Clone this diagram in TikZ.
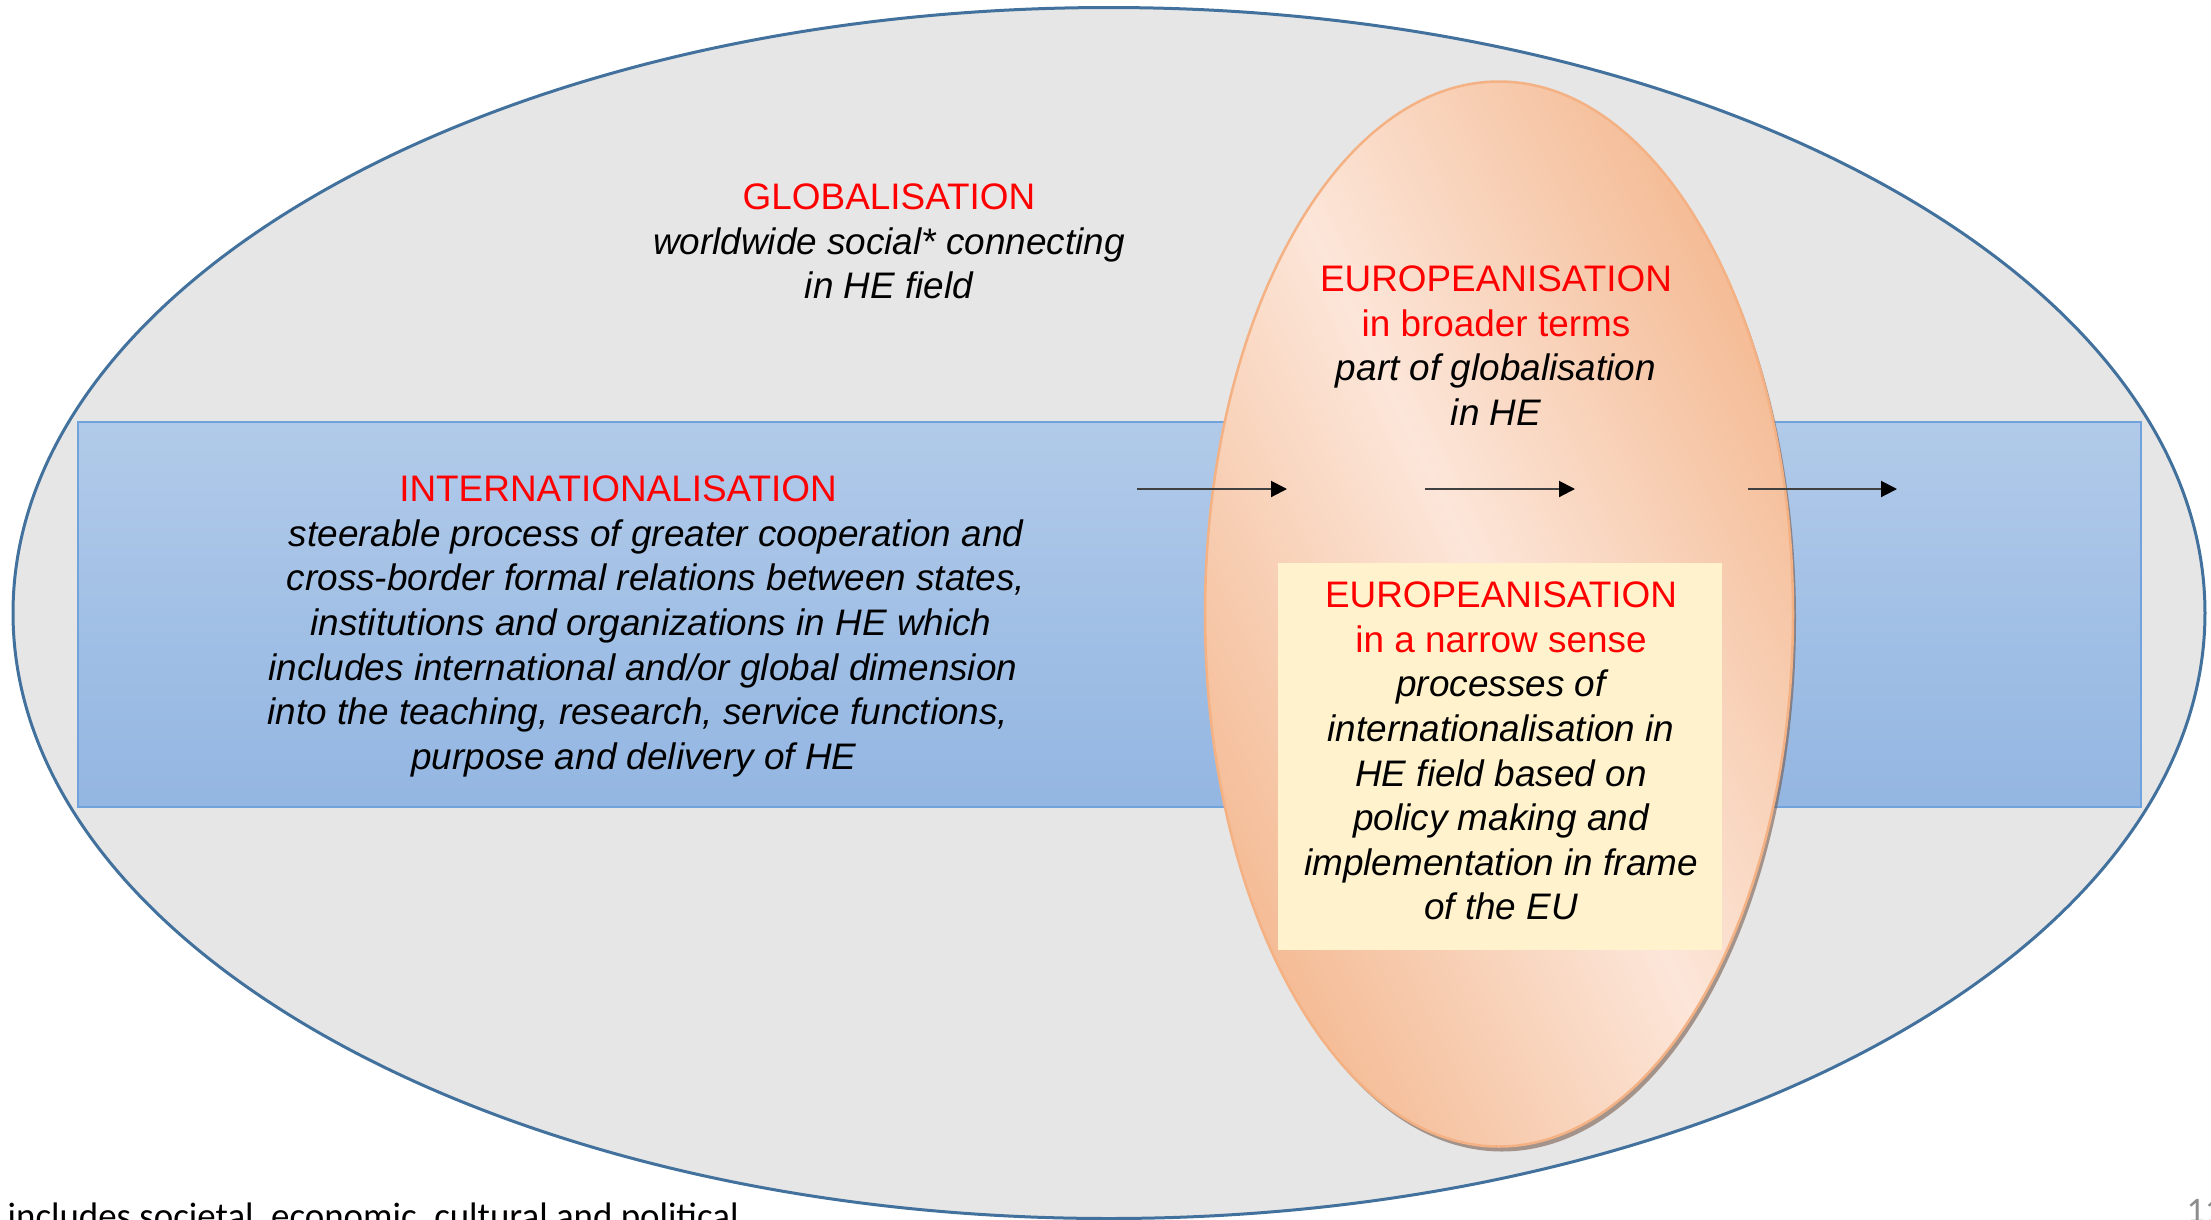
\documentclass[tikz,border=0pt]{standalone}
\usepackage{fontspec}
\setmainfont{Liberation Sans}
\newfontfamily\calibri{Carlito}
\usetikzlibrary{shapes.geometric,arrows.meta,shadows}

\definecolor{globfill}{HTML}{E6E6E6}
\definecolor{globline}{HTML}{41719C}
\definecolor{inttop}{HTML}{B1CAE9}
\definecolor{intbot}{HTML}{93B6E2}
\definecolor{intline}{HTML}{70A2DC}
\definecolor{eudark}{HTML}{F4BA93}
\definecolor{eulight}{HTML}{FCE6D9}
\definecolor{euline}{HTML}{F4B183}
\definecolor{eushadow}{HTML}{6E5040}
\definecolor{narrowfill}{HTML}{FFF2CC}
\definecolor{headred}{HTML}{FF0000}
\definecolor{numgray}{HTML}{8C8C8C}

\newcommand{\hd}[1]{{\color{headred}\upshape #1}}
\newcommand{\rpad}[1]{\hspace*{#1}\mbox{}}

\begin{document}
\begin{tikzpicture}[x=0.1mm,y=-0.1mm,
  txt/.style={align=center,inner sep=0pt,anchor=north,font=\fontsize{10.5pt}{12.7pt}\selectfont\itshape},
  flow/.style={draw=black!75,line width=0.2mm,-{Triangle[length=1.6mm,width=1.6mm,color=black]}}]
\useasboundingbox (0,0) rectangle (2211,1219);
\clip (0,0) rectangle (2211,1219);

\node [ellipse,draw=globline,line width=0.3mm,fill=globfill,minimum width=219.2mm,minimum height=121.1mm,inner sep=0pt] (glob) at (1109,613) {};
\node [rectangle,draw=intline,line width=0.2mm,top color=inttop,bottom color=intbot,minimum width=206.3mm,minimum height=38.5mm,inner sep=0pt] (int) at (1109.5,614.5) {};
\node [ellipse,draw=euline,line width=0.25mm,left color=eudark,right color=eudark,middle color=eulight,shading angle=-64,
  drop shadow={shadow xshift=0.3mm,shadow yshift=-0.5mm,fill=eushadow,opacity=0.55},
  minimum width=58.8mm,minimum height=106.5mm,inner sep=0pt] (eu) at (1499,614) {};
\node [rectangle,fill=narrowfill,minimum width=44.4mm,minimum height=38.7mm,inner sep=0pt] (narrow) at (1500,756.5) {};

\node [txt] (globtxt) at (889,183) {\hd{GLOBALISATION}\\worldwide social* connecting\\in HE field};
\node [txt] (inttxt) at (646,475) {\hd{INTERNATIONALISATION}\rpad{5.6mm}\\
  \hspace*{2mm}steerable process of greater cooperation and\\
  \hspace*{2mm}cross-border formal relations between states,\\
  \hspace*{1mm}institutions and organizations in HE which\\
  includes international and/or global dimension\rpad{0.6mm}\\
  into the teaching, research, service functions,\rpad{1.6mm}\\
  purpose and delivery of HE\rpad{2.4mm}};
\node [txt] (eutxt) at (1496,265) {\hd{EUROPEANISATION}\\\hd{in broader terms}\\part of globalisation\\in HE};
\node [txt] (narrowtxt) at (1501,581) {\hd{EUROPEANISATION}\\\hd{in a narrow sense}\\processes of\\internationalisation in\\HE field based on\\policy making and\\implementation in frame\\of the EU};

\coordinate (a1) at (1137,489);
\coordinate (b1) at (1287,489);
\coordinate (a2) at (1425,489);
\coordinate (b2) at (1575,489);
\coordinate (a3) at (1748,489);
\coordinate (b3) at (1897,489);
\draw [flow] (a1) -- (b1);
\draw [flow] (a2) -- (b2);
\draw [flow] (a3) -- (b3);

\node [anchor=base west,inner sep=0pt,font=\calibri\fontsize{10.5pt}{12.7pt}\selectfont] (note) at (7,1228) {includes societal, economic, cultural and political};
\node [anchor=base west,inner sep=0pt,text=numgray,font=\calibri\fontsize{10.2pt}{12pt}\selectfont] (num) at (2186,1222) {11};
\end{tikzpicture}
\end{document}
